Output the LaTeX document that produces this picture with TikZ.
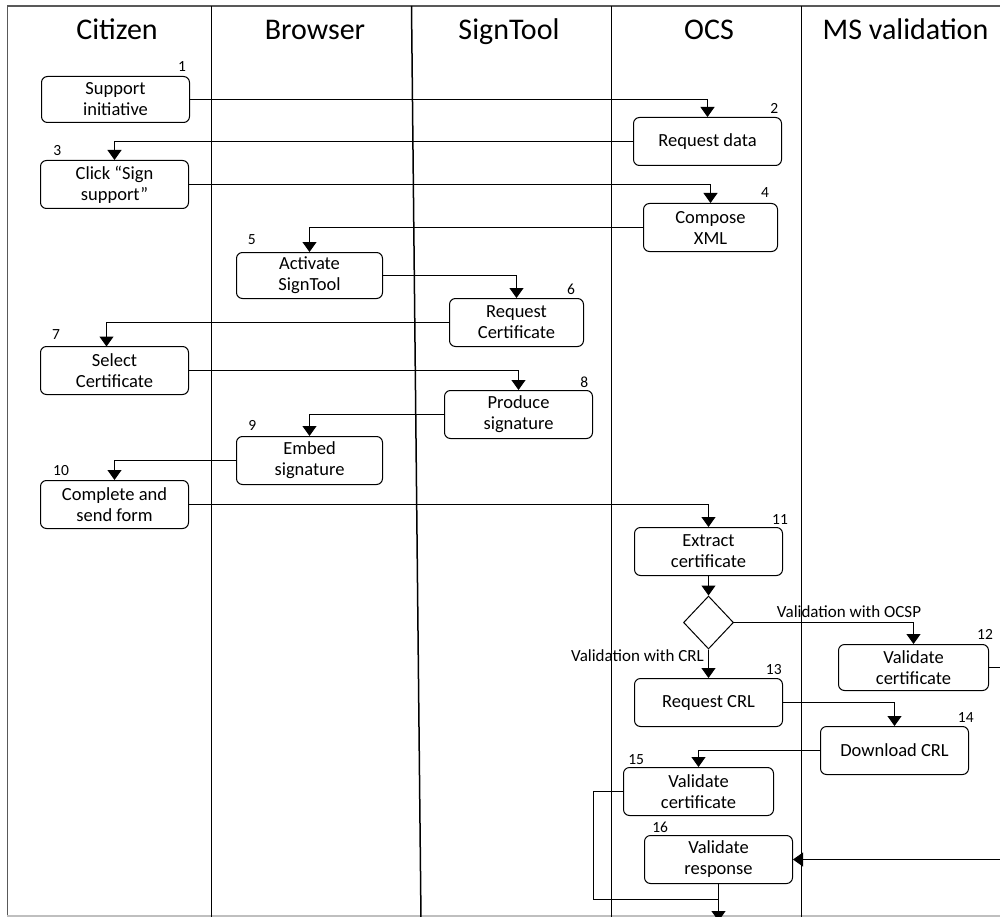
\documentclass[tikz,border=0pt]{standalone}
\usepackage{fontspec}
\setmainfont{Carlito}
\usetikzlibrary{arrows.meta,shapes.geometric}

\begin{document}
\begin{tikzpicture}[x=1pt,y=-1pt,
  lane/.style={line width=1.5pt, draw=black},
  frame/.style={line width=1.8pt, draw=black!65},
  act/.style={draw, rounded corners=6pt, line width=1pt, align=center,
    font=\fontsize{18.5}{21}\selectfont, inner sep=0pt, minimum height=48pt},
  num/.style={font=\fontsize{15.5}{15.5}\selectfont, inner sep=0pt},
  lbl/.style={font=\fontsize{17}{17}\selectfont, inner sep=0pt},
  head/.style={font=\fontsize{30}{30}\selectfont, inner sep=0pt, anchor=base},
  link/.style={line width=1pt},
  arr/.style={link, -{Triangle[width=14pt,length=10pt]}}
]
\useasboundingbox (0,0) rectangle (1000,917);
\clip (0,0) rectangle (1000,917);

% swimlane frame and dividers
\draw[frame] (1010,6) -- (7.5,6) -- (7.5,920);
\draw[line width=1.2pt, draw=black!25] (7,916) -- (1010,916);
\draw[lane] (211.5,6) -- (211.5,920);
\draw[lane] (411.5,6) -- (421,920);
\draw[lane] (611.5,6) -- (611.5,920);
\draw[lane] (801.5,6) -- (801.5,920);

% lane titles
\node[head] (hCit) at (117,39.3) {Citizen};
\node[head] (hBro) at (315,39.3) {Browser};
\node[head] (hSig) at (509,39.3) {SignTool};
\node[head] (hOcs) at (709,39.3) {OCS};
\node[head] (hMsv) at (905.5,39.3) {MS validation};

% activities
\node[act, minimum width=148pt, minimum height=46pt] (b1) at (115.5,99.5) {Support\\initiative};
\node[act, minimum width=148pt] (b2) at (707.5,141.5) {Request data};
\node[act, minimum width=148pt] (b3) at (114.5,184.5) {Click “Sign\\support”};
\node[act, minimum width=134pt] (b4) at (710.5,227.5) {Compose\\XML};
\node[act, minimum width=146pt, minimum height=46pt] (b5) at (309.5,275.5) {Activate\\SignTool};
\node[act, minimum width=134pt] (b6) at (516.5,322.5) {Request\\Certificate};
\node[act, minimum width=148pt] (b7) at (114.5,370.5) {Select\\Certificate};
\node[act, minimum width=148pt] (b8) at (518.5,414.5) {Produce\\signature};
\node[act, minimum width=146pt] (b9) at (309.5,460.5) {Embed\\signature};
\node[act, minimum width=148pt] (b10) at (114.5,504.5) {Complete and\\send form};
\node[act, minimum width=148pt] (b11) at (708.5,551.5) {Extract\\certificate};
\node[draw, diamond, line width=1pt, inner sep=0pt, minimum width=50pt, minimum height=53pt] (dia) at (708.5,622.5) {};
\node[act, minimum width=150pt, minimum height=46pt] (b12) at (913.5,667.5) {Validate\\certificate};
\node[act, minimum width=148pt] (b13) at (708.5,702.5) {Request CRL};
\node[act, minimum width=148pt] (b14) at (894.5,750.5) {Download CRL};
\node[act, minimum width=150pt] (b15) at (698.5,791.5) {Validate\\certificate};
\node[act, minimum width=148pt] (b16) at (718.5,859.5) {Validate\\response};

% step numbers
\node[num] (n1) at (182,66.7) {1};
\node[num] (n2) at (774.3,108) {2};
\node[num] (n3) at (57.3,150.7) {3};
\node[num] (n4) at (765,192.7) {4};
\node[num] (n5) at (251.7,240) {5};
\node[num] (n6) at (571,289) {6};
\node[num] (n7) at (56,335) {7};
\node[num] (n8) at (584.3,382) {8};
\node[num] (n9) at (252.3,425.8) {9};
\node[num] (n10) at (61,470.3) {10};
\node[num] (n11) at (780,519.2) {11};
\node[num] (n12) at (985,634.7) {12};
\node[num] (n13) at (773.8,670) {13};
\node[num] (n14) at (965.8,718) {14};
\node[num] (n15) at (636.2,760) {15};
\node[num] (n16) at (660.2,827) {16};

% branch labels
\node[lbl, anchor=base] (lOcsp) at (849,617.7) {Validation with OCSP};
\node[lbl, anchor=base east] (lCrl) at (704,661) {Validation with CRL};

% helper points for connectors
\coordinate (in7) at (106.5,346.5);
\coordinate (rt12) at (1015,760);
\coordinate (lp15) at (593.5,899.5);
\coordinate (mg) at (718.5,899.5);
\coordinate (out) at (718.5,921);

% flow
\draw[arr] (b1.east) -| (b2.north);
\draw[arr] (b2.west) -| (b3.north);
\draw[arr] (b3.east) -| (b4.north);
\draw[arr] (b4.west) -| (b5.north);
\draw[arr] (b5.east) -| (b6.north);
\draw[arr] (b6.west) -| (in7);
\draw[arr] (b7.east) -| (b8.north);
\draw[arr] (b8.west) -| (b9.north);
\draw[arr] (b9.west) -| (b10.north);
\draw[arr] (b10.east) -| (b11.north);
\draw[arr] (b11.south) -- (dia.north);
\draw[arr] (dia.east) -| (b12.north);
\draw[arr] (dia.south) -- (b13.north);
\draw[arr] (b12.east) -| (rt12) |- (b16.east);
\draw[arr] (b13.east) -| (b14.north);
\draw[arr] (b14.west) -| (b15.north);
\draw[link] (b15.west) -| (lp15) -- (mg);
\draw[arr] (b16.south) -- (out);
\end{tikzpicture}
\end{document}
